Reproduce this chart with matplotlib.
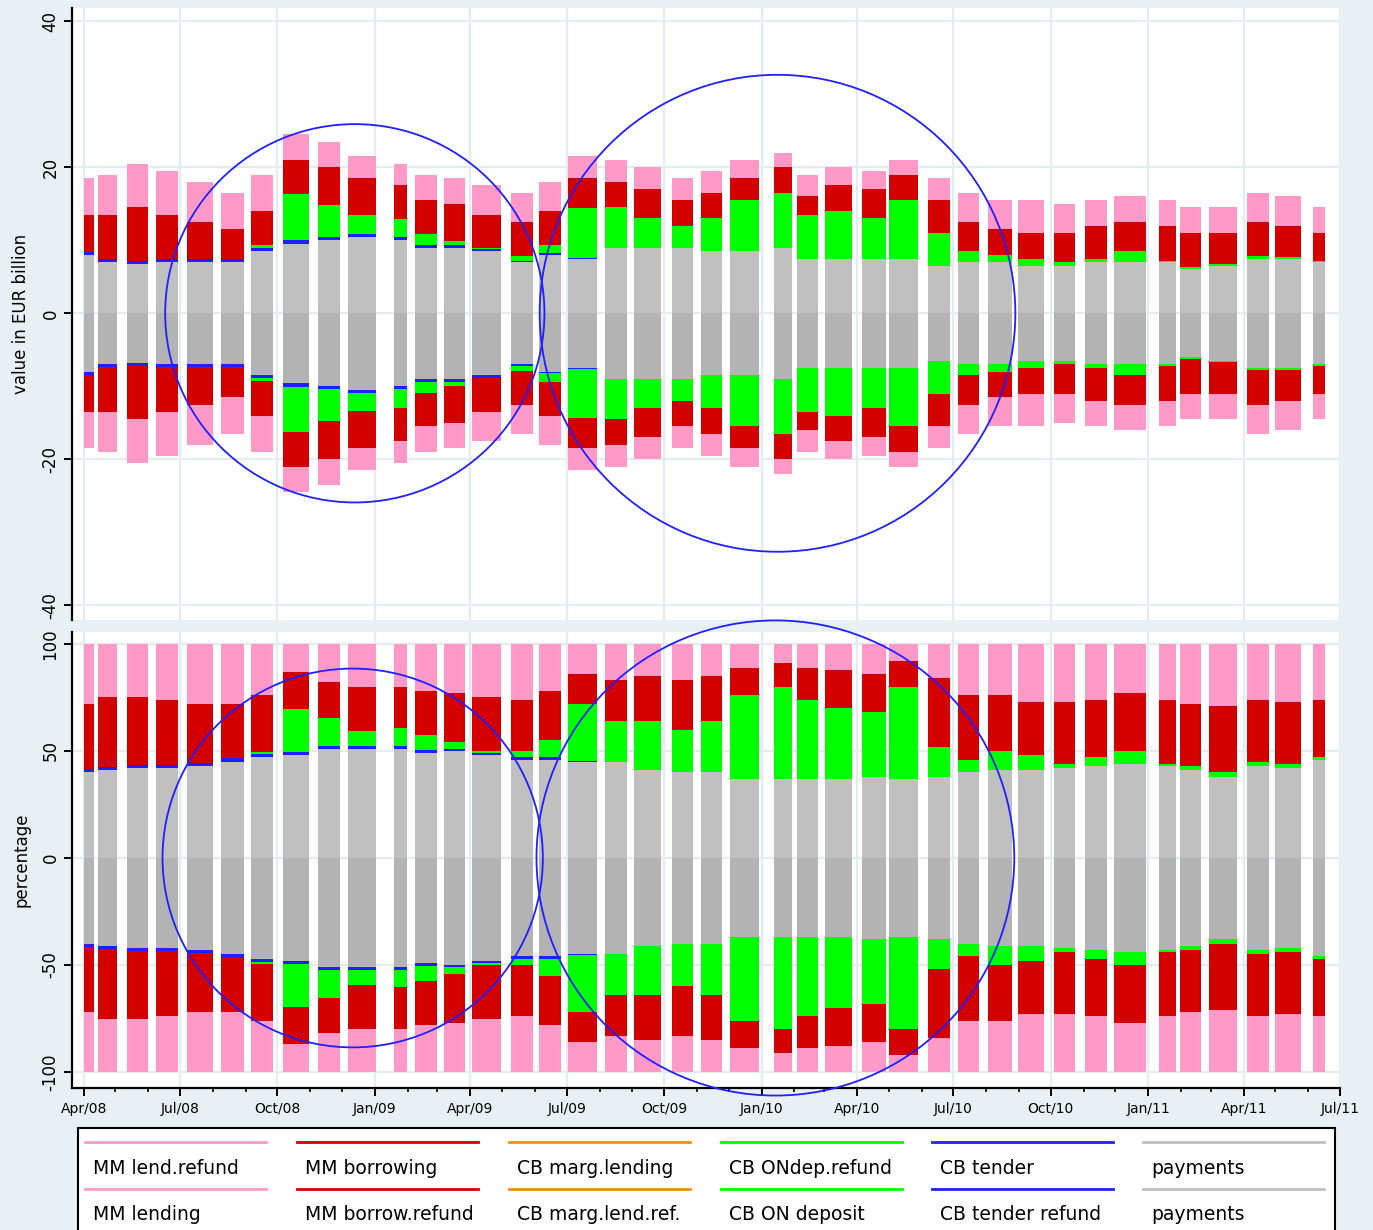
import matplotlib
matplotlib.use('Agg')
import matplotlib.pyplot as plt
import matplotlib.dates as mdates
from matplotlib.patches import Ellipse, Rectangle
import pandas as pd

# reserve maintenance periods shown as blocks (first day, day after last)
period_start = ['2008-04-01', '2008-04-15', '2008-05-12', '2008-06-08', '2008-07-08',
                '2008-08-09', '2008-09-06', '2008-10-06', '2008-11-08', '2008-12-07',
                '2009-01-19', '2009-02-08', '2009-03-07', '2009-04-03', '2009-05-09',
                '2009-06-05', '2009-07-02', '2009-08-06', '2009-09-03', '2009-10-08',
                '2009-11-05', '2009-12-02', '2010-01-13', '2010-02-03', '2010-03-02',
                '2010-04-06', '2010-05-01', '2010-06-07', '2010-07-05', '2010-08-03',
                '2010-08-31', '2010-10-04', '2010-11-02', '2010-11-30', '2011-01-11',
                '2011-01-31', '2011-02-27', '2011-04-04', '2011-05-01', '2011-06-05']
period_end = ['2008-04-11', '2008-05-03', '2008-06-01', '2008-06-29', '2008-08-01',
              '2008-08-30', '2008-09-27', '2008-10-31', '2008-11-29', '2009-01-02',
              '2009-01-31', '2009-03-01', '2009-03-27', '2009-04-30', '2009-05-30',
              '2009-06-26', '2009-07-30', '2009-08-27', '2009-09-28', '2009-10-28',
              '2009-11-25', '2009-12-30', '2010-01-30', '2010-02-23', '2010-03-27',
              '2010-04-28', '2010-05-29', '2010-06-28', '2010-07-25', '2010-08-25',
              '2010-09-25', '2010-10-24', '2010-11-23', '2010-12-30', '2011-01-27',
              '2011-02-20', '2011-03-26', '2011-04-25', '2011-05-25', '2011-06-17']

# values in EUR billion (inflows, outflows mirror them)
eur_payments = [8.0, 7.0, 6.8, 7.0, 7.0, 7.0, 8.5, 9.5, 10.0, 10.5,
                10.0, 9.0, 9.0, 8.5, 7.0, 8.0, 7.5, 9.0, 9.0, 9.0,
                8.5, 8.5, 9.0, 7.5, 7.5, 7.5, 7.5, 6.5, 7.0, 7.0,
                6.5, 6.5, 7.0, 7.0, 7.0, 6.0, 6.5, 7.5, 7.5, 7.0]
eur_tender = [0.4, 0.4, 0.4, 0.4, 0.4, 0.4, 0.4, 0.6, 0.4, 0.4,
              0.4, 0.4, 0.4, 0.3, 0.2, 0.2, 0.1, 0, 0, 0,
              0, 0, 0, 0, 0, 0, 0, 0, 0, 0,
              0, 0, 0, 0, 0, 0, 0, 0, 0, 0]
eur_ondep = [0, 0, 0, 0, 0, 0, 0.4, 6.2, 4.4, 2.5,
             2.5, 1.5, 0.5, 0.1, 0.7, 1.2, 6.8, 5.5, 4.0, 3.0,
             4.5, 7.0, 7.5, 6.0, 6.5, 5.5, 8.0, 4.5, 1.5, 1.0,
             1.0, 0.5, 0.5, 1.5, 0.2, 0.3, 0.2, 0.3, 0.2, 0.2]
eur_marg = [0] * 40
eur_borrow = [5.1, 6.1, 7.3, 6.1, 5.1, 4.1, 4.7, 4.7, 5.2, 5.1,
              4.6, 4.6, 5.1, 4.6, 4.6, 4.6, 4.1, 3.5, 4.0, 3.5,
              3.5, 3.0, 3.5, 2.5, 3.5, 4.0, 3.5, 4.5, 4.0, 3.5,
              3.5, 4.0, 4.5, 4.0, 4.8, 4.7, 4.3, 4.7, 4.3, 3.8]
eur_lend = [5.0, 5.5, 6.0, 6.0, 5.5, 5.0, 5.0, 3.5, 3.5, 3.0,
            3.0, 3.5, 3.5, 4.0, 4.0, 4.0, 3.0, 3.0, 3.0, 3.0,
            3.0, 2.5, 2.0, 3.0, 2.5, 2.5, 2.0, 3.0, 4.0, 4.0,
            4.5, 4.0, 3.5, 3.5, 3.5, 3.5, 3.5, 4.0, 4.0, 3.5]

# shares in percent
pct_payments = [40, 41, 42, 42, 43, 45, 47, 48, 51, 51,
                51, 49, 50, 48, 46, 46, 45, 45, 41, 40,
                40, 37, 37, 37, 37, 38, 37, 38, 40, 41,
                41, 42, 43, 44, 43, 41, 38, 43, 42, 46]
pct_tender = [1.5, 1.5, 1.5, 1.5, 1.5, 1.5, 1.5, 1.5, 1.5, 1.5,
              1.5, 1.5, 1, 1, 1, 1, 0.5, 0, 0, 0,
              0, 0, 0, 0, 0, 0, 0, 0, 0, 0,
              0, 0, 0, 0, 0, 0, 0, 0, 0, 0]
pct_ondep = [0, 0, 0, 0, 0, 0, 1, 20, 13, 7,
             8, 7, 3, 1, 3, 8, 26.5, 19, 23, 20,
             24, 39, 43, 37, 33, 30, 43, 14, 6, 9,
             7, 2, 4, 6, 1, 2, 2, 2, 2, 1]
pct_marg = [0] * 40
pct_borrow = [30.5, 32.5, 31.5, 30.5, 27.5, 25.5, 26.5, 17.5, 16.5, 20.5,
              19.5, 20.5, 23, 25, 24, 23, 14, 19, 21, 23,
              21, 13, 11, 15, 18, 18, 12, 32, 30, 26,
              25, 29, 27, 27, 30, 29, 31, 29, 29, 27]
pct_lend = [28, 25, 25, 26, 28, 28, 24, 13, 18, 20,
            20, 22, 23, 25, 26, 22, 14, 17, 15, 17,
            15, 11, 9, 11, 12, 14, 8, 16, 24, 24,
            27, 27, 26, 23, 26, 28, 29, 26, 27, 26]

c_pink = '#ff99c8'
c_red = '#d40000'
c_orange = '#ff8c1a'
c_green = '#00ff00'
c_blue = '#1f1fff'
c_grey_pos = '#c0c0c0'
c_grey_neg = '#b3b3b3'
bg = '#e9f0f3'
grid_c = '#e3ecef'

starts = mdates.date2num(pd.to_datetime(period_start))
ends = mdates.date2num(pd.to_datetime(period_end))
widths = ends - starts


def draw_stack(ax, series):
    for sign in (1, -1):
        bottom = [0.0] * len(starts)
        for vals, col in series:
            if col is None:
                col = c_grey_pos if sign > 0 else c_grey_neg
            ax.bar(starts, [sign * v for v in vals], widths, bottom=[sign * b for b in bottom],
                   align='edge', color=col, linewidth=0, zorder=2)
            bottom = [b + v for b, v in zip(bottom, vals)]


def style_axis(ax, yticks, ylabel):
    ax.set_facecolor('white')
    ax.set_yticks(yticks)
    ax.set_yticklabels([str(t) for t in yticks], rotation=90, va='center', fontsize=12)
    ax.set_ylabel(ylabel, fontsize=12, labelpad=8)
    ax.xaxis.set_major_locator(mdates.MonthLocator(bymonth=[1, 4, 7, 10]))
    ax.xaxis.set_minor_locator(mdates.MonthLocator())
    ax.grid(True, which='major', color=grid_c, linewidth=1.6, zorder=0)
    ax.set_axisbelow(True)
    for s in ('top', 'right'):
        ax.spines[s].set_visible(False)
    ax.spines['left'].set_linewidth(1.6)
    ax.tick_params(axis='y', length=6, width=1.4, pad=3)
    ax.set_xlim(mdates.date2num(pd.Timestamp('2008-03-21')),
                mdates.date2num(pd.Timestamp('2011-07-01')))


fig = plt.figure(figsize=(13.73, 12.30), dpi=100, facecolor=bg)

ax1 = fig.add_axes([0.0524, 0.4959, 0.9236, 0.4976])
draw_stack(ax1, [(eur_payments, None), (eur_tender, c_blue), (eur_ondep, c_green),
                 (eur_marg, c_orange), (eur_borrow, c_red), (eur_lend, c_pink)])
style_axis(ax1, [-40, -20, 0, 20, 40], 'value in EUR billion')
ax1.set_ylim(-42, 41.8)
ax1.spines['bottom'].set_visible(False)
ax1.tick_params(axis='x', which='both', length=0, labelbottom=False)

ax2 = fig.add_axes([0.0524, 0.1154, 0.9236, 0.3708])
draw_stack(ax2, [(pct_payments, None), (pct_tender, c_blue), (pct_ondep, c_green),
                 (pct_marg, c_orange), (pct_borrow, c_red), (pct_lend, c_pink)])
style_axis(ax2, [-100, -50, 0, 50, 100], 'percentage')
ax2.set_ylim(-107.5, 105.6)
ax2.spines['bottom'].set_linewidth(1.6)
ax2.xaxis.set_major_formatter(mdates.DateFormatter('%b/%y'))
ax2.tick_params(axis='x', which='major', length=6, width=1.4, labelsize=10, pad=4)
ax2.tick_params(axis='x', which='minor', length=3, width=1.2)

# highlight circles
circles = [(ax1, '2008-12-13', 358, 51.8), (ax1, '2010-01-16', 449, 65.3),
           (ax2, '2008-12-11', 359, 177), (ax2, '2010-01-14', 451, 222)]
for ax, centre, w, h in circles:
    e = Ellipse((mdates.date2num(pd.Timestamp(centre)), 0), w, h, fill=False,
                edgecolor=c_blue, linewidth=1.3, clip_on=False, zorder=5)
    ax.add_patch(e)

# legend: line sample above each label, two rows of six
row1 = ['MM lend.refund', 'MM borrowing', 'CB marg.lending', 'CB ONdep.refund', 'CB tender', 'payments']
row2 = ['MM lending', 'MM borrow.refund', 'CB marg.lend.ref.', 'CB ON deposit', 'CB tender refund', 'payments']
leg_colors = [c_pink, c_red, c_orange, c_green, c_blue, c_grey_pos]

lax = fig.add_axes([0.0, 0.0, 1.0, 1.0], facecolor='none')
lax.set_xlim(0, 1373)
lax.set_ylim(1230, 0)
lax.axis('off')
lax.add_patch(Rectangle((78, 1128), 1257, 110, fill=True, facecolor='white',
                        edgecolor='black', linewidth=1.5, clip_on=False))
col_x = [85, 297, 509, 721, 932, 1143]
for i, x0 in enumerate(col_x):
    for (ly, ty, labels) in ((1142, 1168, row1), (1189, 1215, row2)):
        lax.plot([x0, x0 + 181], [ly, ly], color=leg_colors[i], linewidth=2)
        lax.text(x0 + 8, ty, labels[i], fontsize=13.5, va='center', ha='left')

fig.savefig('out.png', dpi=100, facecolor=bg)
